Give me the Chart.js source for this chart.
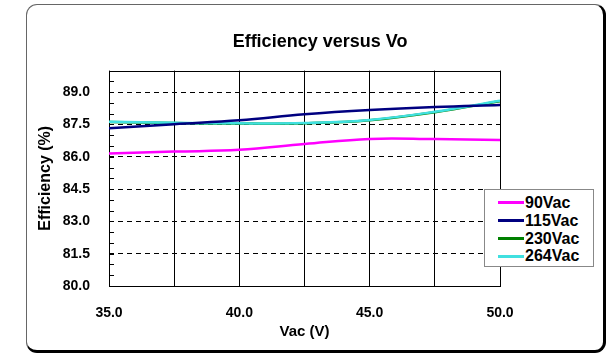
<!DOCTYPE html>
<html>
<head>
<meta charset="utf-8">
<script src="https://cdn.jsdelivr.net/npm/chart.js@4/dist/chart.umd.min.js"></script>
<style>
  html, body { margin: 0; padding: 0; background: #fff; }
  #wrap { position: relative; width: 615px; height: 364px; }
  #frame {
    position: absolute; left: 26px; top: 4px; width: 580px; height: 349px;
    box-sizing: border-box; border-radius: 11px;
    border-left: 1px solid #666; border-top: 1px solid #666;
    border-right: 3px solid #000; border-bottom: 3px solid #000;
  }
  #chart { position: absolute; left: 0; top: 0; }
  #legend {
    position: absolute; left: 484px; top: 189px; width: 110px; height: 78px;
    box-sizing: border-box; border: 1px solid #888; background: #fff;
    padding-top: 4px; font: bold 16px "Liberation Sans", Arial, sans-serif; color: #000;
  }
  .item { height: 17.8px; display: flex; align-items: center; }
  .swatch { width: 26px; height: 3px; margin-left: 13px; margin-right: 1px; }
</style>
</head>
<body>
<div id="wrap">
  <div id="frame"></div>
  <canvas id="chart" width="615" height="364"></canvas>
  <div id="legend"></div>
</div>
<script>
// ----------------- datos -----------------
const vac = [35, 37.5, 40, 42.5, 45, 47.5, 50];
const eff90 = [86.15, 86.24, 86.32, 86.59, 86.83, 86.82, 86.78];
const eff115 = [87.32, 87.51, 87.69, 87.97, 88.17, 88.31, 88.40];
const eff230 = [87.61, 87.57, 87.54, 87.56, 87.70, 88.07, 88.58];
const eff264 = [87.63, 87.58, 87.55, 87.57, 87.71, 88.09, 88.60];

const seriesNames = ["90Vac", "115Vac", "230Vac", "264Vac"];
const seriesColors = ["#ff00ff", "#000080", "#008000", "#40e0e0"];
const seriesOrder = [0, 1, 3, 2]; // cyan above green

const xTickLabels = ["35.0", "40.0", "45.0", "50.0"];
const yTickLabels = ["80.0", "81.5", "83.0", "84.5", "86.0", "87.5", "89.0"];

const X_MIN = 35, X_MAX = 50, X_STEP = 2.5;
const Y_MIN = 80, Y_MAX = 90, Y_STEP = 0.5;

const FONT = "'Liberation Sans', Arial, sans-serif";

// ----------------- util -----------------
function toPoints(ys) {
  return vac.map((x, i) => ({ x, y: ys[i] }));
}
function stepTicks(min, max, step) {
  const out = [];
  for (let v = min; v <= max + 1e-9; v += step) out.push({ value: Math.round(v * 100) / 100 });
  return out;
}
function isMajorY(v) {
  return yTickLabels.includes(v.toFixed(1));
}

// marco del área de trazado + marcas menores interiores
const plotFrame = {
  id: "plotFrame",
  beforeDatasetsDraw(chart) {
    const { ctx, chartArea: a } = chart;
    const ys = chart.scales.y;
    ctx.save();
    ctx.strokeStyle = "#000";
    ctx.lineWidth = 1;
    ctx.beginPath();
    ys.ticks.forEach((t) => {
      const py = Math.round(ys.getPixelForValue(t.value)) + 0.5;
      ctx.moveTo(a.left, py);
      ctx.lineTo(a.left + 5, py);
    });
    ctx.stroke();
    ctx.strokeRect(Math.round(a.left) + 0.5, Math.round(a.top) + 0.5,
      Math.round(a.right - a.left), Math.round(a.bottom - a.top));
    ctx.restore();
  },
};

const allSeries = [eff90, eff115, eff230, eff264];

const chart = new Chart(document.getElementById("chart"), {
  type: "line",
  data: {
    datasets: allSeries.map((s, i) => ({
      label: seriesNames[i],
      data: toPoints(s),
      borderColor: seriesColors[i],
      backgroundColor: seriesColors[i],
      borderWidth: 2.5,
      pointRadius: 0,
      tension: 0.4,
      fill: false,
      order: seriesOrder[i],
    })),
  },
  options: {
    responsive: false,
    animation: false,
    layout: { padding: { left: 25, right: 0, top: 0, bottom: 23 } },
    plugins: {
      legend: { display: false },
      tooltip: { enabled: false },
      title: {
        display: true,
        text: "Efficiency versus Vo",
        color: "#000",
        font: { family: FONT, size: 18, weight: "bold" },
        padding: { top: 31, bottom: 18 },
      },
    },
    scales: {
      x: {
        type: "linear",
        min: X_MIN,
        max: X_MAX,
        afterBuildTicks: (s) => { s.ticks = stepTicks(X_MIN, X_MAX, X_STEP); },
        afterFit: (s) => { s.height = 55; },
        grid: { color: "#000", lineWidth: 1, drawTicks: false },
        border: { display: false },
        ticks: {
          autoSkip: false,
          maxRotation: 0,
          padding: 19,
          color: "#000",
          font: { family: FONT, size: 14, weight: "bold" },
          callback: (v) => (xTickLabels.includes(Number(v).toFixed(1)) ? Number(v).toFixed(1) : ""),
        },
        title: {
          display: true,
          text: "Vac (V)",
          color: "#000",
          font: { family: FONT, size: 15, weight: "bold" },
          padding: { top: 0, bottom: 0 },
        },
      },
      y: {
        type: "linear",
        min: Y_MIN,
        max: Y_MAX,
        afterBuildTicks: (s) => { s.ticks = stepTicks(Y_MIN, Y_MAX, Y_STEP); },
        afterFit: (s) => { s.width = 84; },
        grid: {
          drawTicks: false,
          lineWidth: 1,
          color: (c) => (c.tick && isMajorY(c.tick.value) ? "#000" : "rgba(0,0,0,0)"),
        },
        border: { display: false, dash: [5, 4] },
        ticks: {
          autoSkip: false,
          padding: 19,
          color: "#000",
          font: { family: FONT, size: 14, weight: "bold" },
          callback: (v) => (isMajorY(Number(v)) ? Number(v).toFixed(1) : ""),
        },
        title: {
          display: true,
          text: "Efficiency (%)",
          color: "#000",
          font: { family: FONT, size: 16, weight: "bold" },
          padding: { top: 11, bottom: 0 },
        },
      },
      // eje vacío a la derecha: solo reserva el hueco de la leyenda
      yPad: {
        type: "linear",
        position: "right",
        display: true,
        afterFit: (s) => { s.width = 115; },
        grid: { display: false },
        border: { display: false },
        ticks: { display: false },
      },
    },
  },
  plugins: [plotFrame],
});

// ----------------- leyenda -----------------
const legendEl = document.getElementById("legend");
seriesNames.forEach((name, i) => {
  const row = document.createElement("div");
  row.className = "item";
  const sw = document.createElement("span");
  sw.className = "swatch";
  sw.style.background = seriesColors[i];
  const tx = document.createElement("span");
  tx.textContent = name;
  row.appendChild(sw);
  row.appendChild(tx);
  legendEl.appendChild(row);
});
</script>
</body>
</html>
